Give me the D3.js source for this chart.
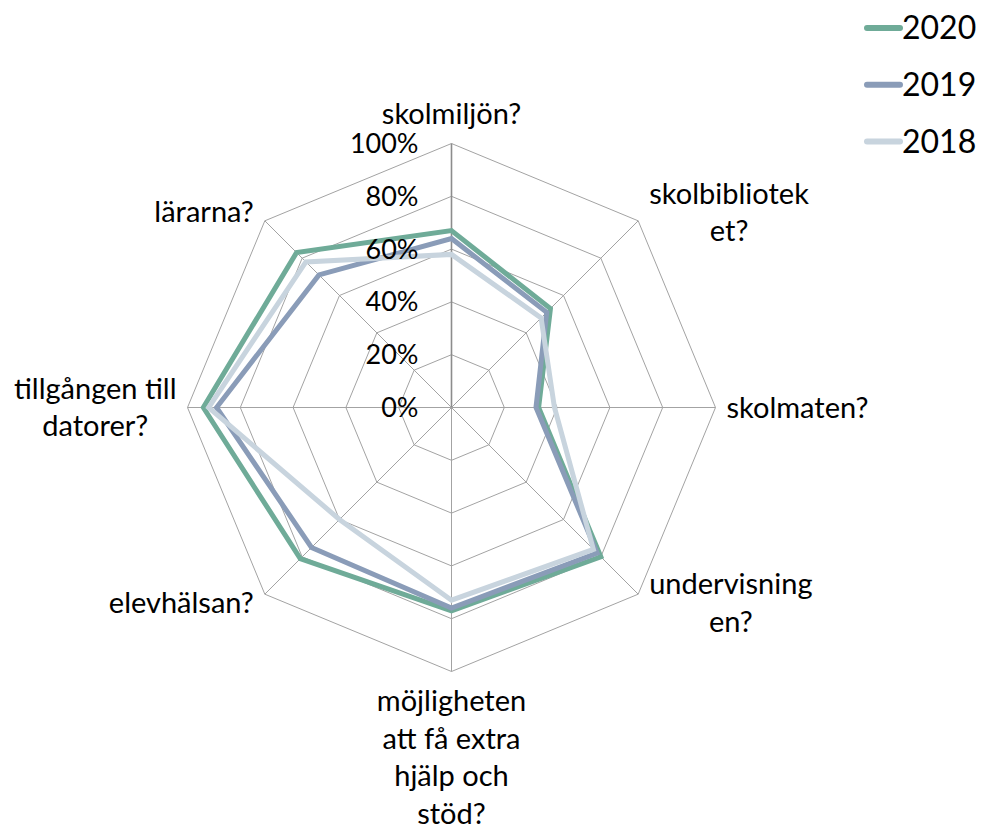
<!DOCTYPE html>
<html>
<head>
<meta charset="utf-8">
<script src="https://cdn.jsdelivr.net/npm/d3@7"></script>
<style>
  body { margin: 0; background: #fff; }
  text { font-family: Lato, "Open Sans", sans-serif; fill: #000; }
</style>
</head>
<body>
<svg id="chart" width="984" height="833"></svg>
<script>
// categories (one per spoke, clockwise from the top) and their wrapped labels
const categories = ["skolmiljön?", "skolbiblioteket?", "skolmaten?", "undervisningen?",
  "möjligheten att få extra hjälp och stöd?", "elevhälsan?", "tillgången till datorer?", "lärarna?"];
const labelLines = [["skolmiljön?"], ["skolbibliotek", "et?"], ["skolmaten?"], ["undervisning", "en?"],
  ["möjligheten", "att få extra", "hjälp och", "stöd?"], ["elevhälsan?"], ["tillgången till", "datorer?"], ["lärarna?"]];

const years = ["2020", "2019", "2018"];
const v2020 = [0.67, 0.53, 0.33, 0.80, 0.77, 0.81, 0.94, 0.83];
const v2019 = [0.64, 0.51, 0.32, 0.78, 0.76, 0.75, 0.89, 0.71];
const v2018 = [0.58, 0.48, 0.39, 0.76, 0.73, 0.60, 0.92, 0.78];
const colors = ["#6fab98", "#8a9cb8", "#c8d4de"];

const ticks = [0, 0.2, 0.4, 0.6, 0.8, 1];

const svg = d3.select("#chart");
const cx = 451.5, cy = 407.5, R = 264;
const n = categories.length;

const angle = d3.scaleLinear().domain([0, n]).range([0, 2 * Math.PI]);
const r = d3.scaleLinear().domain([0, 1]).range([0, R]);

const g = svg.append("g").attr("transform", `translate(${cx},${cy})`);

// rings
const ring = d3.lineRadial()
  .angle((d, i) => angle(i))
  .radius(d => r(d))
  .curve(d3.curveLinearClosed);

g.selectAll(".ring")
  .data(ticks.slice(1))
  .join("path")
  .attr("class", "ring")
  .attr("d", t => ring(categories.map(() => t)))
  .attr("fill", "none")
  .attr("stroke", "#a3a3a3")
  .attr("stroke-width", 1);

// spokes
g.selectAll(".spoke")
  .data(categories)
  .join("line")
  .attr("class", "spoke")
  .attr("x1", 0).attr("y1", 0)
  .attr("x2", (d, i) => r(1) * Math.sin(angle(i)))
  .attr("y2", (d, i) => -r(1) * Math.cos(angle(i)))
  .attr("stroke", (d, i) => i === 0 ? "#8c8c8c" : "#a3a3a3")
  .attr("stroke-width", (d, i) => i === 0 ? 1.6 : 1);

// series
const series = [v2020, v2019, v2018];
g.selectAll(".series")
  .data(series)
  .join("path")
  .attr("class", "series")
  .attr("d", d => ring(d))
  .attr("fill", "none")
  .attr("stroke", (d, i) => colors[i])
  .attr("stroke-width", 5)
  .attr("stroke-linejoin", "miter");

// value labels
g.selectAll(".tick")
  .data(ticks)
  .join("text")
  .attr("class", "tick")
  .attr("x", -33)
  .attr("y", d => -r(d))
  .attr("dy", "0.35em")
  .attr("text-anchor", "end")
  .style("font-size", "27px")
  .text(d => d3.format(".0%")(d));

// category labels
const lineH = 37.5, gap = 11, shift = 12;
labelLines.forEach((lines, i) => {
  const a = angle(i);
  const dx = Math.sin(a), dy = -Math.cos(a);
  const vx = r(1) * dx, vy = r(1) * dy;
  const t = g.append("text")
    .attr("text-anchor", "middle")
    .style("font-size", "29px");
  lines.forEach((s, k) => {
    t.append("tspan").attr("x", 0).attr("y", k * lineH).attr("dy", "0.35em").text(s);
  });
  const w = t.node().getBBox().width;
  const m = lines.length;
  let tx = vx, ty;
  if (dx > 0.1) tx = vx + gap + w / 2;
  else if (dx < -0.1) tx = vx - gap - w / 2;
  if (Math.abs(dx) < 0.1) {
    ty = dy < 0 ? vy - gap - ((m - 1) * lineH + lineH / 2) : vy + gap + lineH / 2;
  } else {
    ty = vy - (m - 1) / 2 * lineH + dy * shift;
  }
  t.attr("transform", `translate(${tx},${ty})`);
});

// legend
const legend = svg.append("g").attr("transform", "translate(867,28)");
const item = legend.selectAll(".item")
  .data(years)
  .join("g")
  .attr("class", "item")
  .attr("transform", (d, i) => `translate(0,${i * 56.8})`);
item.append("line")
  .attr("x1", 0).attr("x2", 33)
  .attr("stroke", (d, i) => colors[i])
  .attr("stroke-width", 6)
  .attr("stroke-linecap", "round");
item.append("text")
  .attr("x", 35)
  .attr("dy", "0.35em")
  .style("font-size", "32px")
  .text(d => d);
</script>
</body>
</html>
